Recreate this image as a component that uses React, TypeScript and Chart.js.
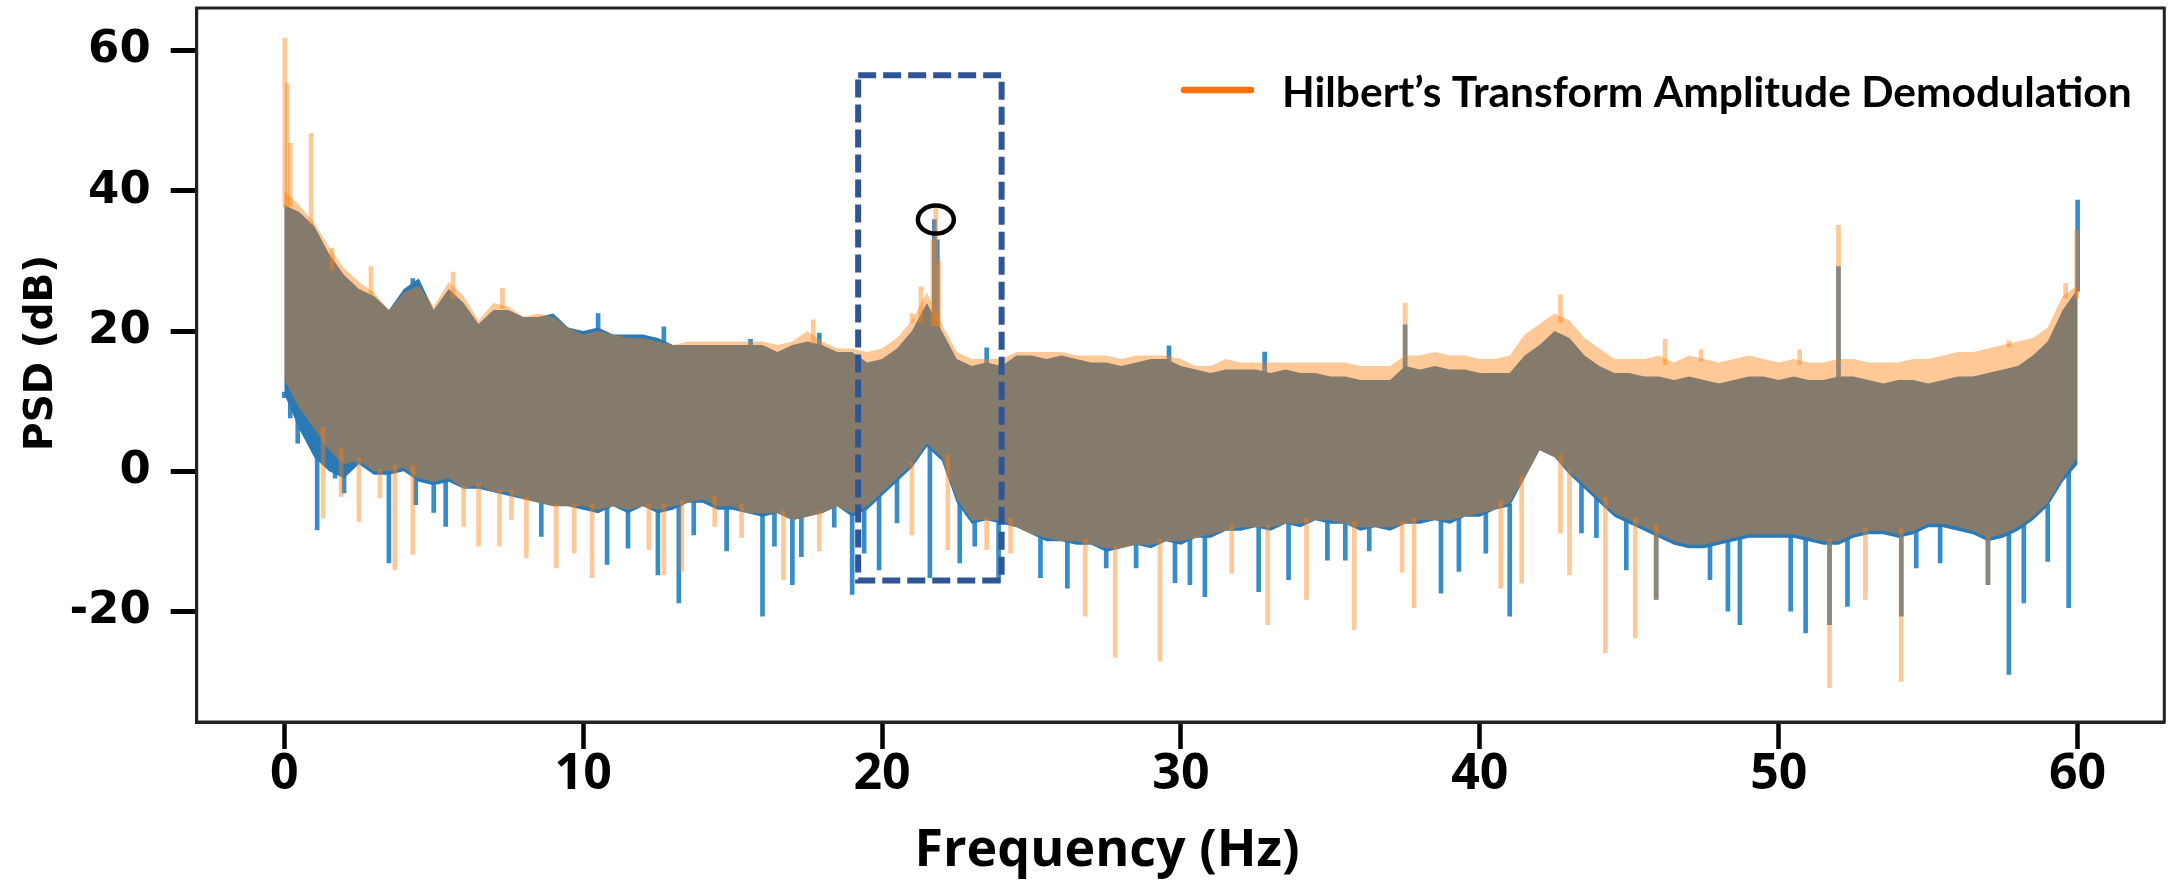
import React, { useEffect, useRef } from 'react';
import { Chart, registerables } from 'chart.js';

Chart.register(...registerables);

// ---------------- data ----------------
// frequency grid of the envelope readings (Hz)
const freqs: number[] = Array.from({ length: 121 }, (_, i) => i * 0.5);

// upper / lower envelope of the dense PSD band, blue series (dB)
const blueHi = [
  38, 37, 35, 31, 28, 26, 25, 23, 26, 27.5,
  23, 26, 24, 21, 23, 23, 22, 22, 22.5, 20.5,
  20, 20.5, 19.5, 19.5, 19.5, 19, 18, 18, 18, 18,
  18, 18, 18, 17, 18, 18.5, 18, 17, 17, 15.5,
  16, 17.5, 20, 24, 20, 16, 15, 15.5, 15, 16.5,
  16.5, 16, 16.5, 16, 15.5, 15.5, 15, 15.5, 16, 16,
  15, 14.5, 14, 14.5, 14.5, 14.5, 14, 14.5, 14, 14,
  13.5, 13.5, 13, 13, 13, 15, 14.5, 15, 14.5, 14.5,
  14, 14, 14, 16.5, 18, 20, 19, 16.5, 15, 14,
  14, 13.5, 13.5, 13, 13.5, 13, 12.5, 13, 13.5, 13.5,
  13, 13.5, 13, 13, 13.5, 13.5, 13, 12.5, 13, 13,
  12.5, 13, 13.5, 13.5, 14, 14.5, 15, 16.5, 18.5, 23,
  26,
];
const blueLo = [
  11, 6, 2, 0, -1, 1, -0.5, -0.5, 0, -1.5,
  -2, -1.5, -2.5, -2.5, -3, -3.5, -4, -4.5, -5, -5,
  -5.5, -6, -5, -6, -5, -6, -5.5, -4.5, -4.5, -5.5,
  -5.5, -6, -6.5, -6, -7, -6.5, -6, -5, -6.5, -5.5,
  -3.5, -1.5, 0.5, 3.5, 1.5, -4.5, -7.5, -7, -7.5, -8,
  -9, -10, -10, -10.5, -10.5, -11.5, -11, -10.5, -11, -10,
  -10.5, -9.5, -9.5, -8.5, -8.5, -8, -8.5, -7.5, -8, -7,
  -7.5, -7.5, -8.5, -8, -8.5, -7.5, -7.5, -7, -7.5, -6.5,
  -6.5, -5.5, -5, -1, 3, 2, -0.5, -2.5, -4.5, -6.5,
  -7.5, -8.5, -9.5, -10.5, -11, -11, -10.5, -10, -9.5, -9.5,
  -9.5, -9.5, -10, -10.5, -10.5, -9.5, -9, -9, -9.5, -9,
  -8, -8, -8.5, -9, -10, -9.5, -8.5, -7, -5, -1.5,
  1,
];

// upper / lower envelope of the dense PSD band, orange series (dB)
const orangeHi = [
  40, 38, 35.5, 32, 29, 27, 25.5, 23, 25.5, 26.5,
  23.5, 27, 25, 21.5, 24, 23.5, 22, 22.5, 22, 20.5,
  19.5, 20, 19.5, 19, 19, 18.5, 18, 18.5, 18.5, 18.5,
  18.5, 18.5, 18.5, 18, 18.5, 20, 18.5, 17.5, 17.5, 17,
  17.5, 19, 21.5, 25.5, 21, 17, 16, 16, 16, 17,
  17, 17, 17, 16.5, 16.5, 16.5, 16, 16.5, 16.5, 16.5,
  16, 15, 15, 16, 15.5, 15.5, 15.5, 15.5, 15.5, 15.5,
  15.5, 15.5, 15, 15, 15, 16.5, 16.5, 17, 16.5, 16.5,
  16, 16, 16.5, 19.5, 21, 22.5, 21.5, 19, 17.5, 16,
  16, 16, 16.5, 15.5, 16.5, 16, 15.5, 16, 16.5, 16,
  15.5, 16, 15.5, 15.5, 16, 16, 15.5, 15.5, 15.5, 16,
  16, 16.5, 17, 17, 17.5, 18, 18.5, 19, 20.5, 25,
  26.5,
];
const orangeLo = [
  13, 9, 6, 3, 1, 1.5, 0, 0, 0.5, -1,
  -1.5, -1, -2.5, -2, -3, -3, -4, -4.5, -5, -5,
  -5, -5.5, -5, -5.5, -5, -5.5, -5, -4.5, -4, -5,
  -5, -6, -6, -6, -7, -6.5, -6, -5, -6, -5,
  -3, -1, 1, 4, 2, -4, -7, -7, -7, -8,
  -9, -9.5, -10, -10, -10.5, -11, -11, -10.5, -10.5, -10,
  -10, -9.5, -9, -8.5, -8, -8, -8, -7.5, -7.5, -7,
  -7, -7.5, -8, -8, -8, -7.5, -7, -7, -7, -6.5,
  -6, -5.5, -4.5, -1, 3, 2, 0, -2, -4, -6,
  -7, -8, -9, -10, -10.5, -10.5, -10, -9.5, -9, -9,
  -9, -9, -9.5, -10, -10, -9, -8.5, -8.5, -9, -8.5,
  -7.5, -7.5, -8, -8.5, -9.5, -9, -8, -6.5, -4.5, -1,
  2,
];

// isolated spectral lines sticking out of the band: [frequency Hz, tip dB]
const blueUpSpikes: [number, number][] = [
  [4.3, 27.5], [10.5, 22.5], [12.7, 20.6], [15.6, 18.8], [17.9, 19.7],
  [21.75, 35.9], [21.85, 33], [23.5, 17.6], [29.6, 17.9], [32.8, 17],
  [37.5, 20.9], [52.0, 29.2], [60.0, 38.7],
];
const blueDownSpikes: [number, number][] = [
  [0.0, 10.5], [0.2, 7.6], [0.45, 4], [0.8, 4.7], [1.1, -8.4], [1.7, -1], [2.0, -3.1],
  [3.5, -13.1], [4.4, -4.8], [5.0, -5.9], [5.4, -7.9], [8.6, -9.3], [10.8, -13.3],
  [11.5, -11], [12.5, -14.8], [13.2, -18.8], [13.7, -9.1], [14.8, -11.4], [16.0, -20.7],
  [16.4, -10.7], [17.0, -16.2], [17.3, -12.2], [18.4, -8], [19.0, -17.6], [19.4, -11.7],
  [19.9, -14.1], [20.5, -7.4], [21.6, -15.2], [22.6, -13.1], [23.1, -10.7], [23.9, -15.9],
  [25.3, -15.2], [26.2, -16.7], [27.5, -13.8], [28.5, -13.8], [29.8, -15.9], [30.3, -16.2],
  [30.8, -17.9], [32.6, -17.2], [33.6, -15.5], [34.9, -12.7], [35.5, -12.7], [36.3, -11.4],
  [38.7, -17.4], [39.3, -14.3], [40.2, -11.7], [41.0, -20.7], [43.4, -8.8], [43.9, -9.5],
  [44.9, -14.1], [45.9, -18.3], [47.7, -15.5], [48.3, -20], [48.7, -21.9], [50.4, -20],
  [50.9, -23.1], [51.7, -21.9], [52.3, -19.3], [54.1, -20.7], [54.6, -13.8], [55.4, -13.1],
  [57.0, -16.2], [57.7, -29], [58.2, -18.8], [59.0, -12.9], [59.7, -19.5],
];
const orangeUpSpikes: [number, number][] = [
  [0.02, 61.8], [0.1, 55.3], [0.2, 46.8], [0.9, 48.2], [1.6, 31.8], [2.9, 29.2],
  [5.65, 28.4], [7.3, 26.1], [17.7, 21.6], [21.0, 22.5], [21.3, 26.3], [21.7, 33],
  [21.8, 38], [21.9, 30], [37.5, 24], [42.7, 25.2], [46.2, 18.8], [47.4, 17.3],
  [50.7, 17.3], [52.0, 35.1], [57.7, 18.6], [59.6, 26.8], [59.97, 34.4],
];
const orangeDownSpikes: [number, number][] = [
  [1.3, -6.7], [1.9, -3.6], [2.5, -7.2], [3.2, -3.8], [3.7, -14.1], [4.3, -11.9],
  [6.0, -7.9], [6.5, -10.7], [7.2, -10.7], [7.6, -6.9], [8.1, -12.4], [9.1, -13.8],
  [9.7, -11.7], [10.3, -15.2], [12.2, -11.2], [12.7, -14.8], [13.3, -14.3], [14.4, -7.9],
  [15.3, -9.5], [16.7, -15.5], [17.9, -11.4], [21.0, -9.1], [22.2, -11.2], [23.5, -11.2],
  [24.3, -11.7], [26.8, -20.7], [27.8, -26.6], [29.3, -27.1], [31.7, -14.6], [32.9, -21.9],
  [34.2, -18.3], [35.8, -22.6], [37.4, -14.4], [37.8, -19.5], [40.7, -16.7], [41.4, -16],
  [42.7, -8.8], [43.0, -14.8], [44.2, -25.9], [45.2, -23.8], [45.9, -18.3], [51.7, -30.9],
  [52.9, -18.3], [54.1, -30], [57.0, -16.2],
];

const xTicks = [0, 10, 20, 30, 40, 50, 60];
const yTicks = [-20, 0, 20, 40, 60];
const xRange = [-2.93, 62.9];
const yRange = [-35.8, 66.1];

const xTitle = 'Frequency (Hz)';
const yTitle = 'PSD (dB)';
const legendLabel = 'Hilbert’s Transform Amplitude Demodulation';

// annotations (data units)
const highlightBox = { f0: 19.2, f1: 24.0, v0: -15.6, v1: 56.5 };
const peakMarker = { f: 21.8, v: 35.9 };

// ---------------- styles ----------------
const BLUE = 'rgb(42,120,180)';
const BLUE_SPIKE = 'rgb(55,140,202)';
const ORANGE = 'rgba(255,127,14,0.43)';
const LEGEND_ORANGE = 'rgb(255,112,10)';
const BOX_BLUE = '#2F5597';
const CLEAR = 'rgba(0,0,0,0)';

function pts(vals: number[]) {
  return freqs.map((f, i) => ({ x: f, y: vals[i] }));
}

function nearIdx(f: number): [number, number] {
  const i0 = Math.max(0, Math.min(120, Math.floor(f * 2)));
  const i1 = Math.max(0, Math.min(120, Math.ceil(f * 2)));
  return [i0, i1];
}

function upBars(spikes: [number, number][], hi: number[]) {
  return spikes
    .map(([f, v]) => {
      const [i0, i1] = nearIdx(f);
      const base = Math.min(hi[i0], hi[i1]) - 0.3;
      return { x: f, y: [base, v] };
    })
    .filter((d) => d.y[1] > d.y[0]);
}

function downBars(spikes: [number, number][], lo: number[]) {
  return spikes
    .map(([f, v]) => {
      const [i0, i1] = nearIdx(f);
      const base = Math.max(lo[i0], lo[i1]) + 0.3;
      return { x: f, y: [v, base] };
    })
    .filter((d) => d.y[1] > d.y[0]);
}

const overlayPlugin = {
  id: 'overlay',
  afterDraw(chart: any) {
    const { ctx, chartArea: a, scales } = chart;
    const x = scales.x;
    const y = scales.y;
    ctx.save();
    // plot frame
    ctx.strokeStyle = '#222';
    ctx.lineWidth = 3;
    ctx.strokeRect(a.left, a.top, a.right - a.left, a.bottom - a.top);

    // dashed highlight box
    const bx0 = x.getPixelForValue(highlightBox.f0);
    const bx1 = x.getPixelForValue(highlightBox.f1);
    const by0 = y.getPixelForValue(highlightBox.v1);
    const by1 = y.getPixelForValue(highlightBox.v0);
    ctx.setLineDash([18, 7]);
    ctx.lineWidth = 6;
    ctx.strokeStyle = BOX_BLUE;
    ctx.strokeRect(bx0, by0, bx1 - bx0, by1 - by0);
    ctx.setLineDash([]);

    // peak circle
    ctx.beginPath();
    ctx.ellipse(x.getPixelForValue(peakMarker.f), y.getPixelForValue(peakMarker.v), 18, 14, 0, 0, Math.PI * 2);
    ctx.lineWidth = 4.5;
    ctx.strokeStyle = '#000';
    ctx.stroke();

    // legend
    ctx.beginPath();
    ctx.moveTo(1184, 90);
    ctx.lineTo(1251, 90);
    ctx.lineWidth = 6.5;
    ctx.lineCap = 'round';
    ctx.strokeStyle = LEGEND_ORANGE;
    ctx.stroke();
    ctx.fillStyle = '#000';
    let fs = 41;
    ctx.font = `bold ${fs}px Lato, "Open Sans", sans-serif`;
    const w = ctx.measureText(legendLabel).width;
    fs = fs * 850 / w;
    ctx.font = `bold ${fs}px Lato, "Open Sans", sans-serif`;
    ctx.textAlign = 'left';
    ctx.textBaseline = 'alphabetic';
    ctx.fillText(legendLabel, 1282, 107);

    // x title
    ctx.font = 'bold 52px "Open Sans", sans-serif';
    ctx.textAlign = 'center';
    ctx.textBaseline = 'alphabetic';
    ctx.fillText(xTitle, 1107, 866);

    // y title
    ctx.translate(42, 353);
    ctx.rotate(-Math.PI / 2);
    ctx.font = 'bold 39px "DejaVu Sans", sans-serif';
    ctx.textAlign = 'center';
    ctx.textBaseline = 'middle';
    ctx.fillText(yTitle, 0, 0);
    ctx.restore();
  },
};

export default function App() {
  const ref = useRef<HTMLCanvasElement | null>(null);
  useEffect(() => {
    if (!ref.current) return;
    const bandLine = { pointRadius: 0, tension: 0, borderWidth: 1, borderColor: CLEAR };
    const spikeBar = { barThickness: 4, grouped: false, borderWidth: 0 };
    const chart = new Chart(ref.current, {
      type: 'line',
      data: {
        datasets: [
          { type: 'line', data: pts(blueHi), ...bandLine, backgroundColor: BLUE, fill: '+1', order: 2 },
          { type: 'line', data: pts(blueLo), ...bandLine, backgroundColor: BLUE, fill: false, order: 2 },
          { type: 'bar', data: upBars(blueUpSpikes, blueHi), ...spikeBar, backgroundColor: BLUE_SPIKE, order: 2 },
          { type: 'bar', data: downBars(blueDownSpikes, blueLo), ...spikeBar, backgroundColor: BLUE_SPIKE, order: 2 },
          { type: 'line', data: pts(orangeHi), ...bandLine, backgroundColor: ORANGE, fill: '+1', order: 1 },
          { type: 'line', data: pts(orangeLo), ...bandLine, backgroundColor: ORANGE, fill: false, order: 1 },
          { type: 'bar', data: upBars(orangeUpSpikes, orangeHi), ...spikeBar, backgroundColor: ORANGE, order: 1 },
          { type: 'bar', data: downBars(orangeDownSpikes, orangeLo), ...spikeBar, backgroundColor: ORANGE, order: 1 },
        ] as any,
      },
      options: {
        responsive: false,
        animation: false,
        devicePixelRatio: 1,
        layout: { padding: { top: 8, right: 4.7, left: 0, bottom: 0 } },
        plugins: { legend: { display: false }, tooltip: { enabled: false } },
        scales: {
          x: {
            type: 'linear',
            min: xRange[0],
            max: xRange[1],
            offset: false,
            afterBuildTicks: (s: any) => { s.ticks = xTicks.map((v) => ({ value: v })); },
            afterFit: (s: any) => { s.height = 162; s.paddingLeft = 0; s.paddingRight = 0; },
            ticks: {
              color: '#000',
              padding: 1,
              maxRotation: 0,
              autoSkip: false,
              font: { family: '"Open Sans", sans-serif', weight: 'bold', size: 50, lineHeight: 1 },
              callback: (v: any) => String(v),
            },
            grid: { display: true, drawOnChartArea: false, drawTicks: true, tickLength: 27, tickWidth: 4.5, tickColor: '#000', offset: false },
            border: { display: true, color: '#222', width: 3 },
          },
          y: {
            type: 'linear',
            min: yRange[0],
            max: yRange[1],
            afterBuildTicks: (s: any) => { s.ticks = yTicks.map((v) => ({ value: v })); },
            afterFit: (s: any) => { s.width = 196.7; s.paddingTop = 0; s.paddingBottom = 0; },
            ticks: {
              color: '#000',
              padding: 20,
              font: { family: '"DejaVu Sans", sans-serif', weight: 'bold', size: 45 },
              callback: (v: any) => String(v),
            },
            grid: { display: true, drawOnChartArea: false, drawTicks: true, tickLength: 26, tickWidth: 5, tickColor: '#000' },
            border: { display: true, color: '#222', width: 3 },
          },
        },
      } as any,
      plugins: [overlayPlugin],
    });
    return () => chart.destroy();
  }, []);
  return (
    <div style={{ position: 'absolute', left: 0, top: 0, width: 2169, height: 884, background: '#fff' }}>
      <canvas ref={ref} width={2169} height={884} style={{ display: 'block' }} />
    </div>
  );
}
